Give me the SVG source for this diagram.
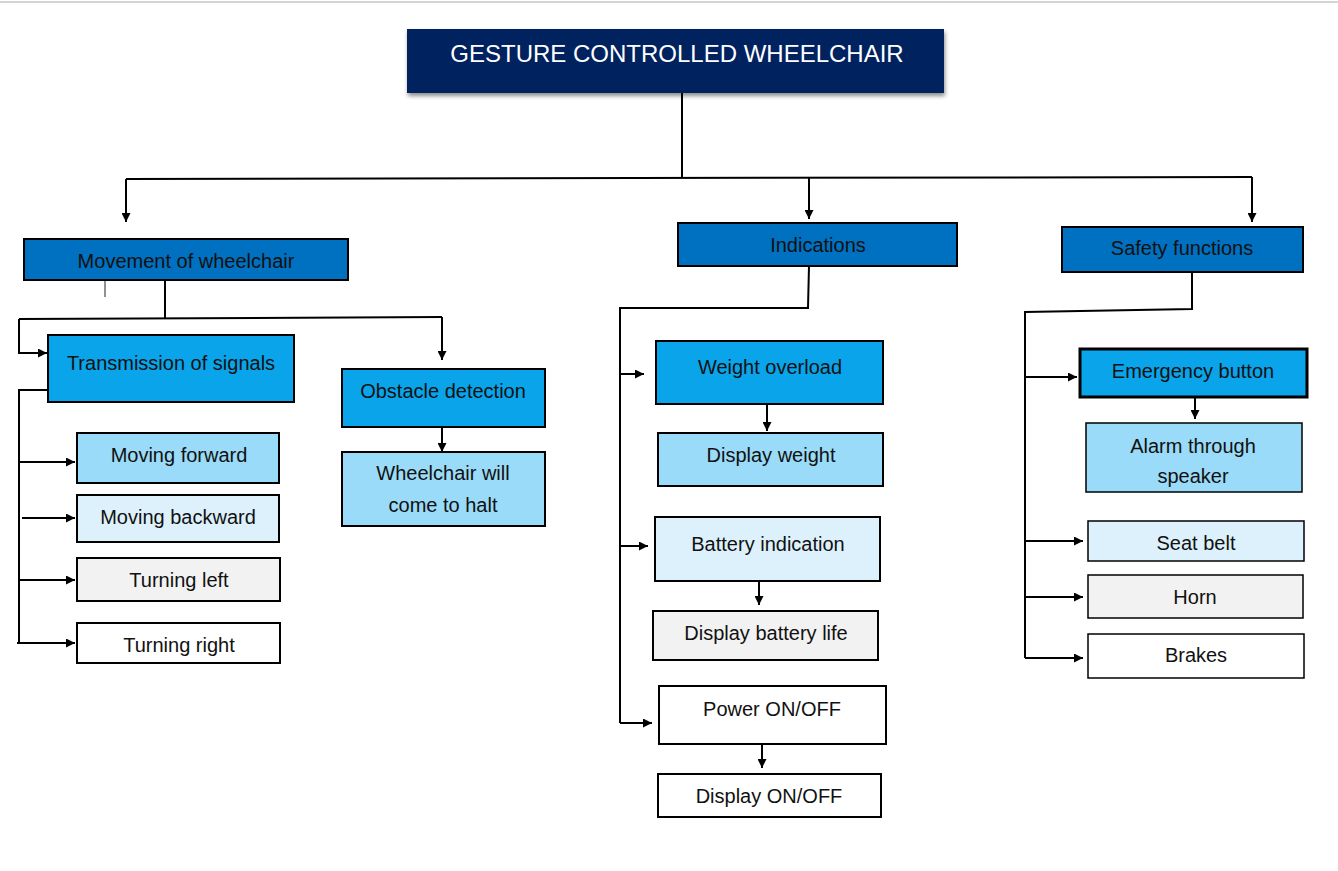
<svg xmlns="http://www.w3.org/2000/svg" width="1338" height="871" viewBox="0 0 1338 871">
<style>
.n{stroke:#000;stroke-width:2}
.t{font-family:"Liberation Sans",Arial,sans-serif;font-size:20px;fill:#111;text-anchor:middle}
.c{fill:none;stroke:#000;stroke-width:2}
.a{fill:none;stroke:#000;stroke-width:2;marker-end:url(#ar)}
</style>
<defs>
<marker id="ar" viewBox="0 0 10 10" refX="10" refY="5" markerWidth="9" markerHeight="9" markerUnits="userSpaceOnUse" orient="auto"><path d="M0,0 L10,5 L0,10 z" fill="#000"/></marker>
<filter id="sh" x="-5%" y="-20%" width="110%" height="150%"><feDropShadow dx="1" dy="3" stdDeviation="2" flood-color="#000" flood-opacity="0.45"/></filter>
</defs>
<rect width="1338" height="871" fill="#fff"/>
<line x1="0" y1="2" x2="1338" y2="2" stroke="#d4d4d4" stroke-width="2"/>

<g id="connectors">
<path class="c" d="M682,93 V178"/>
<path class="c" d="M126,179 L1252,177"/>
<path class="a" d="M126,179 V222"/>
<path class="a" d="M809,178 V219"/>
<path class="a" d="M1252,177 V222"/>
<path class="c" d="M165,280 V318"/>
<path class="c" d="M19,319 L442,317"/>
<path class="a" d="M19,319 V353 H47"/>
<path class="a" d="M442,317 V360"/>
<path class="c" d="M48,390 H19 V643"/>
<path class="a" d="M19,462 H75"/>
<path class="a" d="M22,518 H75"/>
<path class="a" d="M19,580 H75"/>
<path class="a" d="M17,643 H75"/>
<path class="a" d="M442,427 V452"/>
<path class="c" d="M809,266 L808,308 H620 V723"/>
<path class="a" d="M620,374 H644"/>
<path class="a" d="M620,546 H648"/>
<path class="a" d="M620,723 H652"/>
<path class="a" d="M767,404 V431"/>
<path class="a" d="M759,581 V605"/>
<path class="a" d="M762,744 V768"/>
<path class="c" d="M1192,272 V309 L1025,312 V658"/>
<path class="a" d="M1025,377 H1077"/>
<path class="a" d="M1025,541 H1083"/>
<path class="a" d="M1025,597 H1083"/>
<path class="a" d="M1025,658 H1083"/>
<path class="a" d="M1195,397 V419"/>
<line x1="105" y1="276" x2="105" y2="297" stroke="#222" stroke-width="1"/>
</g>

<g id="title">
<rect x="407" y="29" width="537" height="64" fill="#03205e" filter="url(#sh)"/>
<text x="677" y="62" font-family="Liberation Sans,Arial,sans-serif" font-size="24" fill="#fff" text-anchor="middle">GESTURE CONTROLLED WHEELCHAIR</text>
</g>

<g id="movement">
<rect class="n" x="24" y="239" width="324" height="41" fill="#0070c0"/>
<text class="t" x="186" y="268">Movement of wheelchair</text>
</g>
<g id="transmission">
<rect class="n" x="48" y="335" width="246" height="67" fill="#0aa4ea"/>
<text class="t" x="171" y="370">Transmission of signals</text>
</g>
<g id="obstacle">
<rect class="n" x="342" y="369" width="203" height="58" fill="#0aa4ea"/>
<text class="t" x="443" y="398">Obstacle detection</text>
</g>
<g id="halt">
<rect class="n" x="342" y="452" width="203" height="74" fill="#99dbf8"/>
<text class="t" x="443" y="480">Wheelchair will</text>
<text class="t" x="443" y="512">come to halt</text>
</g>
<g id="forward">
<rect class="n" x="77" y="433" width="202" height="50" fill="#99dbf8"/>
<text class="t" x="179" y="462">Moving forward</text>
</g>
<g id="backward">
<rect class="n" x="77" y="495" width="202" height="47" fill="#ddf1fc"/>
<text class="t" x="178" y="524">Moving backward</text>
</g>
<g id="left">
<rect class="n" x="77" y="558" width="203" height="43" fill="#f2f2f2"/>
<text class="t" x="179" y="587">Turning left</text>
</g>
<g id="right">
<rect class="n" x="77" y="623" width="203" height="40" fill="#fff"/>
<text class="t" x="179" y="652">Turning right</text>
</g>

<g id="indications">
<rect class="n" x="678" y="223" width="279" height="43" fill="#0070c0"/>
<text class="t" x="818" y="252">Indications</text>
</g>
<g id="weight">
<rect class="n" x="656" y="341" width="227" height="63" fill="#0aa4ea"/>
<text class="t" x="770" y="374">Weight overload</text>
</g>
<g id="dispweight">
<rect class="n" x="658" y="433" width="225" height="53" fill="#99dbf8"/>
<text class="t" x="771" y="462">Display weight</text>
</g>
<g id="battery">
<rect class="n" x="655" y="517" width="225" height="64" fill="#ddf1fc"/>
<text class="t" x="768" y="551">Battery indication</text>
</g>
<g id="batterylife">
<rect class="n" x="653" y="611" width="225" height="49" fill="#f2f2f2"/>
<text class="t" x="766" y="640">Display battery life</text>
</g>
<g id="power">
<rect class="n" x="659" y="686" width="227" height="58" fill="#fff"/>
<text class="t" x="772" y="716">Power ON/OFF</text>
</g>
<g id="dispon">
<rect class="n" x="658" y="774" width="223" height="43" fill="#fff"/>
<text class="t" x="769" y="803">Display ON/OFF</text>
</g>

<g id="safety">
<rect class="n" x="1062" y="227" width="241" height="45" fill="#0070c0"/>
<text class="t" x="1182" y="255">Safety functions</text>
</g>
<g id="emergency">
<rect x="1080" y="349" width="227" height="48" fill="#0aa4ea" stroke="#000" stroke-width="3"/>
<text class="t" x="1193" y="378">Emergency button</text>
</g>
<g id="alarm">
<rect x="1086" y="423" width="216" height="69" fill="#99dbf8" stroke="#000" stroke-width="1.5"/>
<text class="t" x="1193" y="453">Alarm through</text>
<text class="t" x="1193" y="483">speaker</text>
</g>
<g id="seatbelt">
<rect x="1088" y="521" width="216" height="40" fill="#ddf1fc" stroke="#000" stroke-width="1.5"/>
<text class="t" x="1196" y="550">Seat belt</text>
</g>
<g id="horn">
<rect x="1088" y="575" width="215" height="43" fill="#f2f2f2" stroke="#000" stroke-width="1.5"/>
<text class="t" x="1195" y="604">Horn</text>
</g>
<g id="brakes">
<rect x="1088" y="634" width="216" height="44" fill="#fff" stroke="#000" stroke-width="1.5"/>
<text class="t" x="1196" y="662">Brakes</text>
</g>
</svg>
